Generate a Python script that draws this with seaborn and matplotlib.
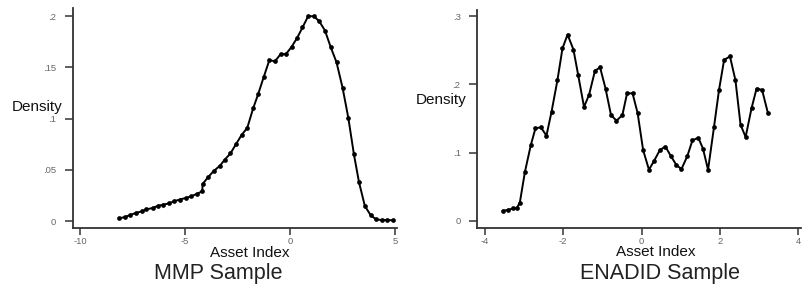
import pandas as pd
import seaborn as sns
import matplotlib.pyplot as plt

# MMP sample density
mmp_x = [-8.14, -7.86, -7.6, -7.33, -7.06, -6.83, -6.54, -6.27, -6.02, -5.75, -5.52,
         -5.24, -4.97, -4.71, -4.44, -4.17, -4.16, -3.89, -3.62, -3.33, -3.1, -2.83,
         -2.57, -2.3, -2.03, -1.75, -1.51, -1.24, -0.98, -0.71, -0.44, -0.19, 0.08,
         0.35, 0.6, 0.87, 1.14, 1.4, 1.67, 1.94, 2.22, 2.51, 2.78, 3.05, 3.29, 3.57,
         3.84, 4.1, 4.37, 4.63, 4.92]
mmp_y = [0.0026, 0.0039, 0.0059, 0.008, 0.0094, 0.0114, 0.0127, 0.015, 0.016, 0.0173,
         0.0193, 0.021, 0.0225, 0.024, 0.0265, 0.029, 0.036, 0.043, 0.049, 0.054, 0.06,
         0.066, 0.075, 0.084, 0.091, 0.11, 0.124, 0.141, 0.157, 0.156, 0.163, 0.163,
         0.170, 0.179, 0.189, 0.200, 0.200, 0.195, 0.186, 0.170, 0.155, 0.130, 0.101,
         0.065, 0.038, 0.0147, 0.0059, 0.0016, 0.001, 0.001, 0.0007]

# ENADID sample density
enadid_x = [-3.55, -3.42, -3.28, -3.19, -3.11, -2.98, -2.83, -2.71, -2.57, -2.43, -2.3,
            -2.15, -2.02, -1.89, -1.74, -1.62, -1.47, -1.34, -1.19, -1.06, -0.92, -0.78,
            -0.64, -0.49, -0.37, -0.23, -0.1, 0.04, 0.19, 0.32, 0.47, 0.61, 0.75, 0.89,
            1.02, 1.17, 1.3, 1.45, 1.57, 1.7, 1.85, 1.98, 2.11, 2.26, 2.4, 2.53, 2.66,
            2.81, 2.94, 3.08, 3.23]
enadid_y = [0.015, 0.016, 0.0185, 0.0185, 0.027, 0.072, 0.111, 0.136, 0.137, 0.125, 0.16,
            0.206, 0.253, 0.273, 0.251, 0.214, 0.167, 0.185, 0.22, 0.225, 0.194, 0.155,
            0.147, 0.155, 0.187, 0.187, 0.158, 0.104, 0.075, 0.088, 0.104, 0.109, 0.095,
            0.082, 0.076, 0.095, 0.118, 0.122, 0.106, 0.075, 0.137, 0.192, 0.236, 0.241,
            0.206, 0.141, 0.123, 0.165, 0.194, 0.192, 0.158]

mmp_xticks = [-10, -5, 0, 5]
mmp_xlabels = ['-10', '-5', '0', '5']
mmp_yticks = [0, 0.05, 0.1, 0.15, 0.2]
mmp_ylabels = ['0', '.05', '.1', '.15', '.2']
enadid_xticks = [-4, -2, 0, 2, 4]
enadid_xlabels = ['-4', '-2', '0', '2', '4']
enadid_yticks = [0, 0.1, 0.2, 0.3]
enadid_ylabels = ['0', '.1', '.2', '.3']

sns.set_style("ticks")
plt.rcParams['font.family'] = ['Liberation Sans', 'DejaVu Sans']

fig = plt.figure(figsize=(8.02, 2.91), dpi=100)
ax1 = fig.add_axes([0.091, 0.2165, 0.404, 0.756])
ax2 = fig.add_axes([0.595, 0.2165, 0.404, 0.749])

df_mmp = pd.DataFrame({'x': mmp_x, 'y': mmp_y})
df_en = pd.DataFrame({'x': enadid_x, 'y': enadid_y})

panels = [
    (ax1, df_mmp, mmp_xticks, mmp_xlabels, mmp_yticks, mmp_ylabels,
     (-10.33, 5.1), (-0.0068, 0.208), (-0.111, 0.55), (0.545, -0.112)),
    (ax2, df_en, enadid_xticks, enadid_xlabels, enadid_yticks, enadid_ylabels,
     (-4.2, 4.08), (-0.0103, 0.309), (-0.111, 0.587), (0.552, -0.112)),
]

for ax, d, xt, xl, yt, yl, xlim, ylim, ylab_pos, xlab_pos in panels:
    sns.lineplot(data=d, x='x', y='y', ax=ax, color='black', linewidth=1.4,
                 marker='o', markersize=3.4, markeredgewidth=0)
    ax.set_xlim(*xlim)
    ax.set_ylim(*ylim)
    ax.set_xticks(xt)
    ax.set_xticklabels(xl)
    ax.set_yticks(yt)
    ax.set_yticklabels(yl)
    sns.despine(ax=ax)
    for s in ['left', 'bottom']:
        ax.spines[s].set_color('#333333')
        ax.spines[s].set_linewidth(1.3)
    ax.tick_params(axis='y', length=6, width=1.1, color='#333333', labelsize=6.8,
                   labelcolor='#666666', pad=6)
    ax.tick_params(axis='x', length=5, width=1.1, color='#333333', labelsize=6.8,
                   labelcolor='#666666', pad=1.2)
    ax.set_ylabel('Density', rotation=0, fontsize=11, color='#111111',
                  ha='center', va='center')
    ax.yaxis.set_label_coords(*ylab_pos)
    ax.set_xlabel('Asset Index', fontsize=11, color='#111111', va='center')
    ax.xaxis.set_label_coords(*xlab_pos)

fig.text(218 / 802, 1 - 273 / 291, 'MMP Sample', fontsize=15.5, color='#222222',
         ha='center', va='center')
fig.text(660 / 802, 1 - 273 / 291, 'ENADID Sample', fontsize=15.5, color='#222222',
         ha='center', va='center')

fig.savefig('out.png', dpi=100)
